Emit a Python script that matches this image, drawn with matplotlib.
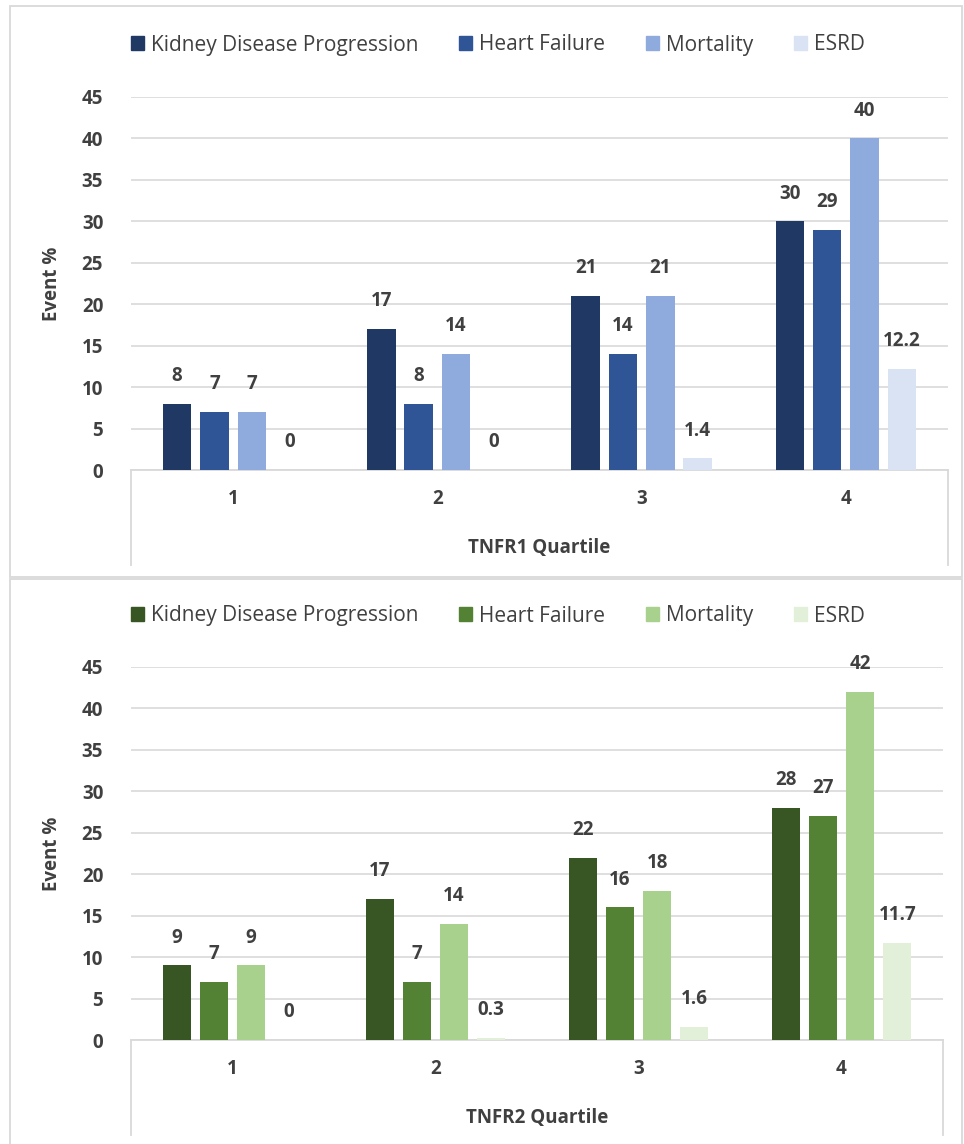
import numpy as np
import matplotlib.pyplot as plt
from matplotlib.patches import Rectangle
from matplotlib.lines import Line2D

plt.rcParams['font.family'] = ['Open Sans', 'DejaVu Sans']

quartiles = ["1", "2", "3", "4"]
series = ["Kidney Disease Progression", "Heart Failure", "Mortality", "ESRD"]

# TNFR1 event % per quartile
tnfr1_kdp = [8, 17, 21, 30]
tnfr1_hf = [7, 8, 14, 29]
tnfr1_mort = [7, 14, 21, 40]
tnfr1_esrd = [0, 0, 1.4, 12.2]

# TNFR2 event % per quartile
tnfr2_kdp = [9, 17, 22, 28]
tnfr2_hf = [7, 7, 16, 27]
tnfr2_mort = [9, 14, 18, 42]
tnfr2_esrd = [0, 0.3, 1.6, 11.7]

blues = ["#1F3864", "#2F5597", "#8FAADC", "#DAE3F3"]
greens = ["#375623", "#548235", "#A9D18E", "#E2F0D9"]

W, H = 964, 1144
fig = plt.figure(figsize=(W / 100, H / 100), dpi=100)
TXT = "#404040"
GRID = "#D9D9D9"
FS = 13.5


def px(x0, y_top, w, h):
    # convert pixel box (top-left origin) to figure fraction
    return [x0 / W, 1 - (y_top + h) / H, w / W, h / H]


# panel frames
for (y0, y1) in [(6, 577), (579, 1150)]:
    fig.patches.append(Rectangle((10 / W, 1 - y1 / H), (962 - 10) / W, (y1 - y0) / H,
                                 transform=fig.transFigure, fill=False,
                                 edgecolor=GRID, lw=1.3))


def panel(y_zero, right, data, colors, title, legend_y, box_bottom):
    left = 131
    ax = fig.add_axes(px(left, y_zero - 373, right - left, 373))
    x = np.arange(len(quartiles))
    width = 0.14
    pitch = 0.183
    for i, vals in enumerate(data):
        pos = x + (i - 1.5) * pitch
        ax.bar(pos, vals, width, color=colors[i], zorder=3)
        for p, v in zip(pos, vals):
            ax.annotate(f"{v:g}", (p, v), xytext=(0, 20), textcoords="offset points",
                        ha="center", va="center", fontsize=FS, fontweight="bold",
                        color=TXT)
    ax.set_xlim(-0.5, 3.5)
    ax.set_ylim(0, 45)
    ax.set_yticks(range(0, 46, 5))
    ax.grid(axis="y", color=GRID, lw=1.2, zorder=0)
    for s in ["top", "right", "left"]:
        ax.spines[s].set_visible(False)
    ax.spines["bottom"].set_color(GRID)
    ax.spines["bottom"].set_linewidth(1.3)
    ax.tick_params(axis="y", length=0, pad=20, labelsize=FS, labelcolor=TXT)
    ax.tick_params(axis="x", length=0, pad=14, labelsize=FS, labelcolor=TXT)
    ax.set_xticks(x)
    ax.set_xticklabels(quartiles)
    for lab in ax.get_xticklabels() + ax.get_yticklabels():
        lab.set_fontweight("bold")
    ax.set_ylabel("Event %", fontsize=FS, fontweight="bold", color=TXT)
    ax.yaxis.set_label_coords((62 - left) / (right - left), 0.5)
    # category box edges
    for xe in (left, right):
        fig.add_artist(Line2D([xe / W, xe / W], [1 - y_zero / H, 1 - box_bottom / H],
                              color=GRID, lw=1.3))
    fig.text((left + right) / 2 / W, 1 - (y_zero + 78) / H, title, ha="center",
             va="center", fontsize=FS, fontweight="bold", color=TXT)
    handles = [Rectangle((0, 0), 1, 1, color=c) for c in colors]
    fig.legend(handles, series, loc="center left", ncol=4,
               bbox_to_anchor=(112 / W, 1 - legend_y / H), frameon=False,
               fontsize=15, labelcolor=TXT, handlelength=0.62, handleheight=0.62,
               handletextpad=0.35, columnspacing=1.95)
    return ax


panel(470, 948, [tnfr1_kdp, tnfr1_hf, tnfr1_mort, tnfr1_esrd], blues,
      "TNFR1 Quartile", 45, 565)
panel(1040, 943, [tnfr2_kdp, tnfr2_hf, tnfr2_mort, tnfr2_esrd], greens,
      "TNFR2 Quartile", 616, 1135)

fig.savefig("out.png", dpi=100, facecolor="white")
